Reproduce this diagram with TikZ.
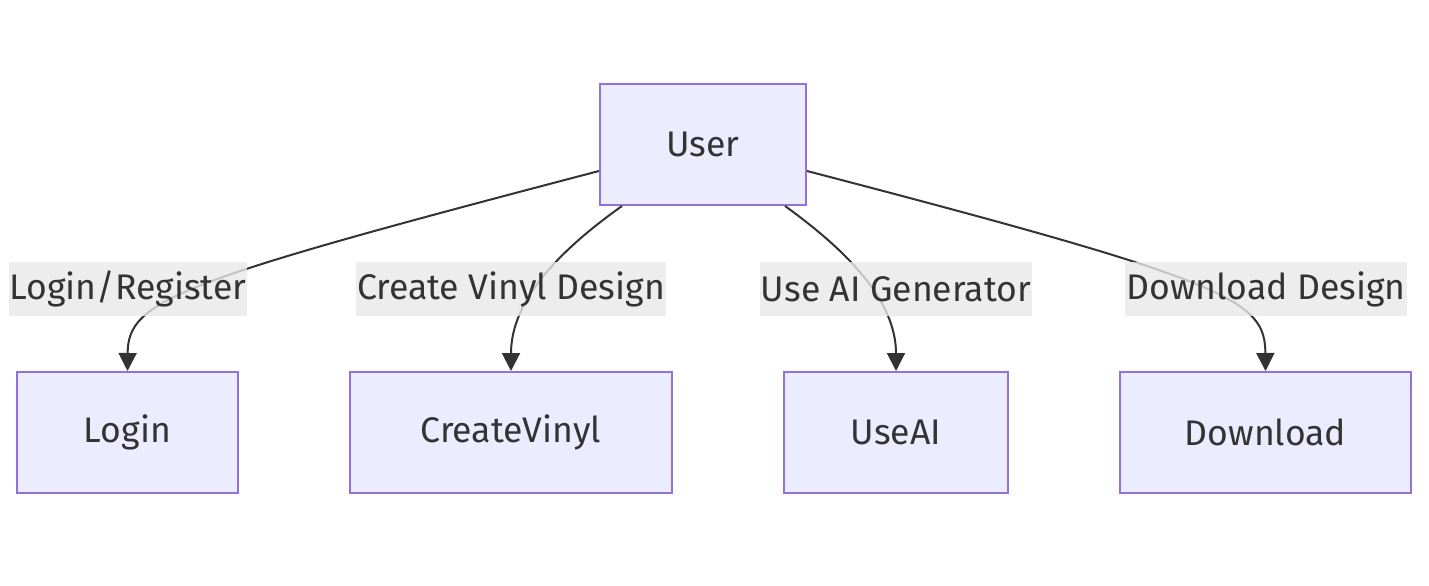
\documentclass[tikz,border=0pt]{standalone}
\usepackage{fontspec}
\setmainfont{Fira Sans}
\usetikzlibrary{arrows.meta,positioning}
\usepackage{xcolor}
\definecolor{boxfill}{HTML}{ECECFF}
\definecolor{boxline}{HTML}{9370DB}
\definecolor{edgeline}{HTML}{333333}
\definecolor{labelfill}{HTML}{E8E8E8}

\begin{document}
\begin{tikzpicture}[x=0.5pt,y=-0.5pt,
  every node/.style={text=edgeline,font=\fontsize{17.8}{21}\selectfont},
  entity/.style={draw=boxline,fill=boxfill,line width=1pt,minimum height=60.5pt,inner sep=0pt},
  edgelabel/.style={fill=labelfill,fill opacity=0.8,text opacity=1,inner sep=0.5pt,minimum height=27pt},
  flow/.style={draw=edgeline,line width=1pt,-{Triangle[length=9pt,width=9pt]}}]

\useasboundingbox (0,0) rectangle (1429,585);

\node[entity,minimum width=103pt] (User) at (703,144.5) {User};

\node[entity,minimum width=110.5pt] (Login) at (127.5,432.5) {Login};
\node[entity,minimum width=161pt] (CreateVinyl) at (511,432.5) {CreateVinyl};
\node[entity,minimum width=112pt] (UseAI) at (896,432.5) {UseAI};
\node[entity,minimum width=145.5pt] (Download) at (1265.5,432.5) {Download};

\draw[flow] ([yshift=-13.25pt]User.west) .. controls (175,282) and (128,300) .. (Login.north);
\draw[flow] ([xshift=-40.5pt]User.south) .. controls (560,250) and (511,300) .. (CreateVinyl.north);
\draw[flow] ([xshift=41pt]User.south) .. controls (846,250) and (896,300) .. (UseAI.north);
\draw[flow] ([yshift=-13.25pt]User.east) .. controls (1233,282) and (1265,300) .. (Download.north);

\node[edgelabel] (lblLogin) at (128,289) {Login/Register};
\node[edgelabel] (lblCreate) at (511,289) {Create Vinyl Design};
\node[edgelabel] (lblAI) at (896,289) {Use AI Generator};
\node[edgelabel] (lblDownload) at (1266,289) {Download Design};

\end{tikzpicture}
\end{document}
